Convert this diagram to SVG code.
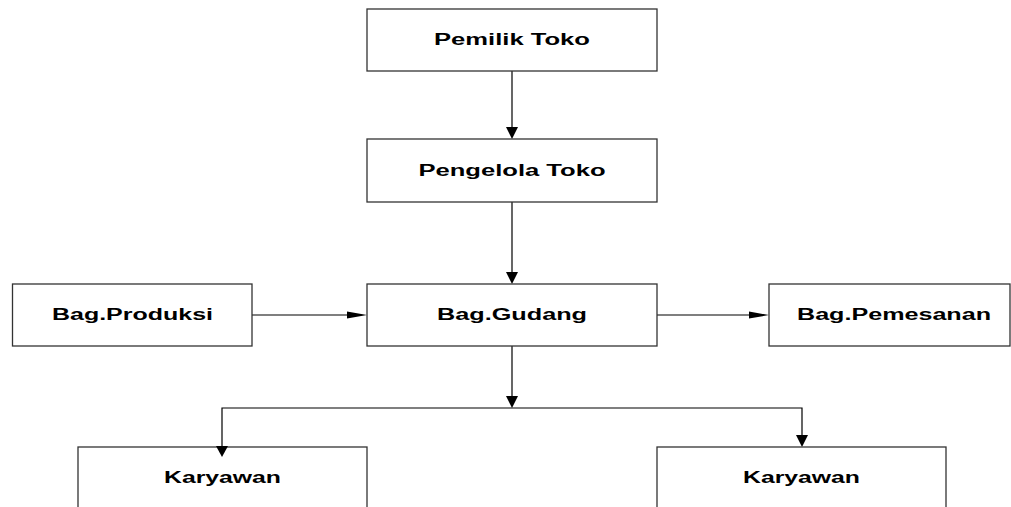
<svg xmlns="http://www.w3.org/2000/svg" width="1011" height="507" viewBox="0 0 1011 507">
<style>
.box{fill:#fff;stroke:#333;stroke-width:1.3}
.lbl{font-family:"Liberation Sans",Arial,sans-serif;font-weight:bold;font-size:16px;fill:#000;text-anchor:middle}
.ln{fill:none;stroke:#000;stroke-width:1.2}
.hd{fill:#000;stroke:none}
</style>
<rect width="1011" height="507" fill="#fff"/>
<g id="connectors">
<line class="ln" x1="512" y1="71" x2="512" y2="128"/>
<polygon class="hd" points="506,127 518,127 512,139"/>
<line class="ln" x1="512" y1="202" x2="512" y2="273"/>
<polygon class="hd" points="506,272 518,272 512,284"/>
<line class="ln" x1="252" y1="315" x2="348" y2="315"/>
<polygon class="hd" points="347,311.5 367,315 347,318.5"/>
<line class="ln" x1="657" y1="315" x2="750" y2="315"/>
<polygon class="hd" points="749,311.5 769,315 749,318.5"/>
<line class="ln" x1="512" y1="346" x2="512" y2="397"/>
<polygon class="hd" points="506,396 518,396 512,408"/>
<polyline class="ln" points="222,446 222,408 802,408 802,436"/>
<polygon class="hd" points="796,435 808,435 802,447"/>
</g>
<g id="pemilik"><rect class="box" x="367" y="9" width="290" height="62"/><text class="lbl" x="512" y="45" textLength="156" lengthAdjust="spacingAndGlyphs">Pemilik Toko</text></g>
<g id="pengelola"><rect class="box" x="367" y="139" width="290" height="63"/><text class="lbl" x="512" y="176" textLength="187" lengthAdjust="spacingAndGlyphs">Pengelola Toko</text></g>
<g id="gudang"><rect class="box" x="367" y="284" width="290" height="62"/><text class="lbl" x="512" y="320" textLength="150" lengthAdjust="spacingAndGlyphs">Bag.Gudang</text></g>
<g id="produksi"><rect class="box" x="12.5" y="284" width="239.5" height="62"/><text class="lbl" x="132.5" y="320" textLength="161" lengthAdjust="spacingAndGlyphs">Bag.Produksi</text></g>
<g id="pemesanan"><rect class="box" x="769" y="284" width="241" height="62"/><text class="lbl" x="894" y="320" textLength="194" lengthAdjust="spacingAndGlyphs">Bag.Pemesanan</text></g>
<g id="karyawan1"><rect class="box" x="78" y="447" width="289" height="70"/><text class="lbl" x="222.5" y="483" textLength="117" lengthAdjust="spacingAndGlyphs">Karyawan</text></g>
<g id="karyawan2"><rect class="box" x="657" y="447" width="289" height="70"/><text class="lbl" x="801.5" y="483" textLength="117" lengthAdjust="spacingAndGlyphs">Karyawan</text></g>
<polygon class="hd" points="216,446 228,446 222,457"/>
</svg>
